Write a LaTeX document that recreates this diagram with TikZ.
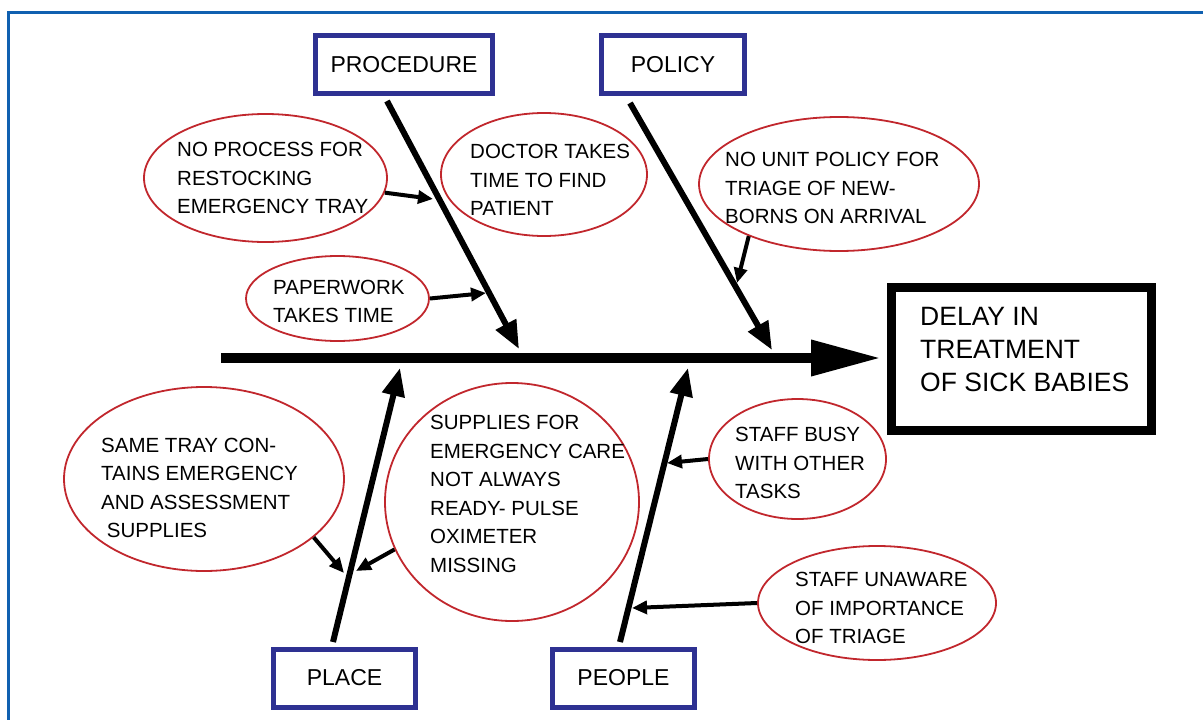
\documentclass[tikz,border=0pt]{standalone}
\usepackage{fontspec}
\setmainfont{Liberation Sans}
\usetikzlibrary{arrows.meta,shapes.geometric}
\definecolor{frameblue}{RGB}{16,96,176}
\definecolor{boxblue}{RGB}{46,49,146}
\definecolor{ovalred}{RGB}{193,39,45}
\begin{document}
\begin{tikzpicture}[x=1pt,y=-1pt,
  catbox/.style={draw=boxblue,line width=5pt,fill=white,inner sep=0pt,minimum height=58pt,font=\fontsize{23}{28}\selectfont},
  effbox/.style={draw=black,line width=9pt,fill=white,inner sep=0pt,minimum width=260pt,minimum height=143pt},
  oval/.style={ellipse,draw=ovalred,line width=1.8pt,inner sep=0pt},
  txt/.style={anchor=west,align=left,inner sep=0pt,font=\fontsize{20.5}{28.5}\selectfont},
  bigtxt/.style={anchor=west,align=left,inner sep=0pt,font=\fontsize{26.5}{33}\selectfont},
  bone/.style={line width=6pt,-{Triangle[length=28pt,width=22pt]}},
  spine/.style={line width=10pt,-{Triangle[length=70pt,width=34pt]}},
  cause/.style={line width=4pt,-{Triangle[length=15pt,width=13pt]}}]
\useasboundingbox (0,0) rectangle (1203,720);
% frame
\draw[frameblue,line width=3pt] (8,720) -- (8,12) -- (1203,12);

% category boxes
\node[catbox,minimum width=177pt] (proc) at (404,64.5) {PROCEDURE};
\node[catbox,minimum width=143pt] (pol) at (673,64.5) {POLICY};
\node[catbox,minimum width=142pt] (place) at (344.5,678) {PLACE};
\node[catbox,minimum width=142pt] (people) at (623.5,678) {PEOPLE};

% effect box
\node[effbox] (eff) at (1021.5,359) {};
\node[bigtxt] (efft) at (920,350) {DELAY IN\\TREATMENT\\OF SICK BABIES};

% bone coordinates
\coordinate (s0) at (221,358);
\coordinate (s1) at (881,358);
\coordinate (b1s) at (387,101);
\coordinate (b1e) at (519,349);
\coordinate (b2s) at (630,103);
\coordinate (b2e) at (772,350);
\coordinate (b3s) at (333,642);
\coordinate (b3e) at (400,368);
\coordinate (b4s) at (620,642);
\coordinate (b4e) at (688,368);

\draw[spine] (s0) -- (s1);
\draw[bone] (b1s) -- (b1e);
\draw[bone] (b2s) -- (b2e);
\draw[bone] (b3s) -- (b3e);
\draw[bone] (b4s) -- (b4e);

% ellipses
\node[oval,minimum width=243pt,minimum height=128pt] (e1) at (265.5,178) {};
\node[txt] (t1) at (177,178) {NO PROCESS FOR\\RESTOCKING\\EMERGENCY TRAY};
\node[oval,minimum width=206pt,minimum height=123pt] (e2) at (544,174.5) {};
\node[txt] (t2) at (470,180) {DOCTOR TAKES\\TIME TO FIND\\PATIENT};
\node[oval,minimum width=183pt,minimum height=85pt] (e3) at (337.5,298.5) {};
\node[txt] (t3) at (273,301.5) {PAPERWORK\\TAKES TIME};
\node[oval,minimum width=280pt,minimum height=134pt] (e4) at (839,184) {};
\node[txt] (t4) at (725,188) {NO UNIT POLICY FOR\\TRIAGE OF NEW-\\BORNS ON ARRIVAL};
\node[oval,minimum width=280pt,minimum height=184pt] (e5) at (204,479) {};
\node[txt] (t5) at (101,488) {SAME TRAY CON-\\TAINS EMERGENCY\\AND ASSESSMENT\\\ SUPPLIES};
\node[oval,minimum width=254pt,minimum height=238pt] (e6) at (512,502) {};
\node[txt] (t6) at (430,494) {SUPPLIES FOR\\EMERGENCY CARE\\NOT ALWAYS\\READY- PULSE\\OXIMETER\\MISSING};
\node[oval,minimum width=177pt,minimum height=120pt] (e7) at (797.5,459) {};
\node[txt] (t7) at (735,463) {STAFF BUSY\\WITH OTHER\\TASKS};
\node[oval,minimum width=238pt,minimum height=114pt] (e8) at (877,603) {};
\node[txt] (t8) at (795,608) {STAFF UNAWARE\\OF IMPORTANCE\\OF TRIAGE};

% cause arrow targets
\coordinate (a1) at (433,199);
\coordinate (a3) at (486,293);
\coordinate (a4) at (737,283);
\coordinate (a5) at (344,573);
\coordinate (a6) at (356,571);
\coordinate (a7) at (667,463);
\coordinate (a8) at (632,608);

\draw[cause] (e1.-7) -- (a1);
\draw[cause] (e3.east) -- (a3);
\draw[cause] (e4.210) -- (a4);
\draw[cause] (e5.-28) -- (a5);
\draw[cause] (e6.202) -- (a6);
\draw[cause] (e7.west) -- (a7);
\draw[cause] (e8.west) -- (a8);
\end{tikzpicture}
\end{document}
